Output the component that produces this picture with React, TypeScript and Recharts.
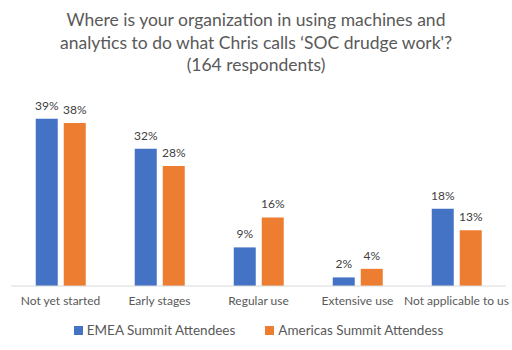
import { BarChart, Bar, XAxis, YAxis, LabelList, Legend } from "recharts";

const categories = ["Not yet started", "Early stages", "Regular use", "Extensive use", "Not applicable to us"];
const emeaValues = [39, 32, 9, 2, 18];
const americasValues = [38, 28, 16, 4, 13];
const titleLines = [
  "Where is your organization in using machines and",
  "analytics to do what Chris calls \u2018SOC drudge work'?",
  "(164 respondents)",
];

const data = categories.map((name, i) => ({
  name,
  emea: emeaValues[i],
  americas: americasValues[i],
}));

const FONT = "Lato, 'Liberation Sans', sans-serif";
const BLUE = "#4472C4";
const ORANGE = "#ED7D31";

function LegendBox() {
  const items = [
    { label: "EMEA Summit Attendees", color: BLUE },
    { label: "Americas Summit Attendess", color: ORANGE },
  ];
  return (
    <div style={{ display: "flex", justifyContent: "center", gap: 30, paddingTop: 6, fontFamily: FONT, fontSize: 13.5, color: "#595959" }}>
      {items.map((it) => (
        <div key={it.label} style={{ display: "flex", alignItems: "center", gap: 4 }}>
          <span style={{ display: "block", width: 9, height: 9, background: it.color }} />
          <span>{it.label}</span>
        </div>
      ))}
    </div>
  );
}

export default function App() {
  return (
    <div style={{ position: "absolute", left: 0, top: 0, width: 512, height: 350, background: "#fff" }}>
      <div
        style={{
          position: "absolute",
          left: 0,
          top: 9,
          width: 512,
          textAlign: "center",
          fontFamily: FONT,
          fontSize: 17.5,
          lineHeight: "22.5px",
          color: "#595959",
        }}
      >
        {titleLines.map((l) => (
          <div key={l}>{l}</div>
        ))}
      </div>
      <BarChart
        width={512}
        height={350}
        data={data}
        margin={{ top: 93, right: 6, left: 11, bottom: 0 }}
        barCategoryGap="25%"
        barGap={6}
      >
        <XAxis
          dataKey="name"
          axisLine={{ stroke: "#d9d9d9" }}
          tickLine={false}
          tickMargin={4}
          height={30}
          interval={0}
          tick={{ fill: "#595959", fontSize: 12, fontFamily: FONT }}
        />
        <YAxis hide domain={[0, 45]} />
        <Legend verticalAlign="bottom" height={34} content={() => <LegendBox />} />
        <Bar dataKey="emea" fill={BLUE} isAnimationActive={false}>
          <LabelList dataKey="emea" position="top" offset={9} formatter={(v: any) => `${v}%`} fill="#404040" fontSize={12} fontFamily={FONT} />
        </Bar>
        <Bar dataKey="americas" fill={ORANGE} isAnimationActive={false}>
          <LabelList dataKey="americas" position="top" offset={9} formatter={(v: any) => `${v}%`} fill="#404040" fontSize={12} fontFamily={FONT} />
        </Bar>
      </BarChart>
    </div>
  );
}
